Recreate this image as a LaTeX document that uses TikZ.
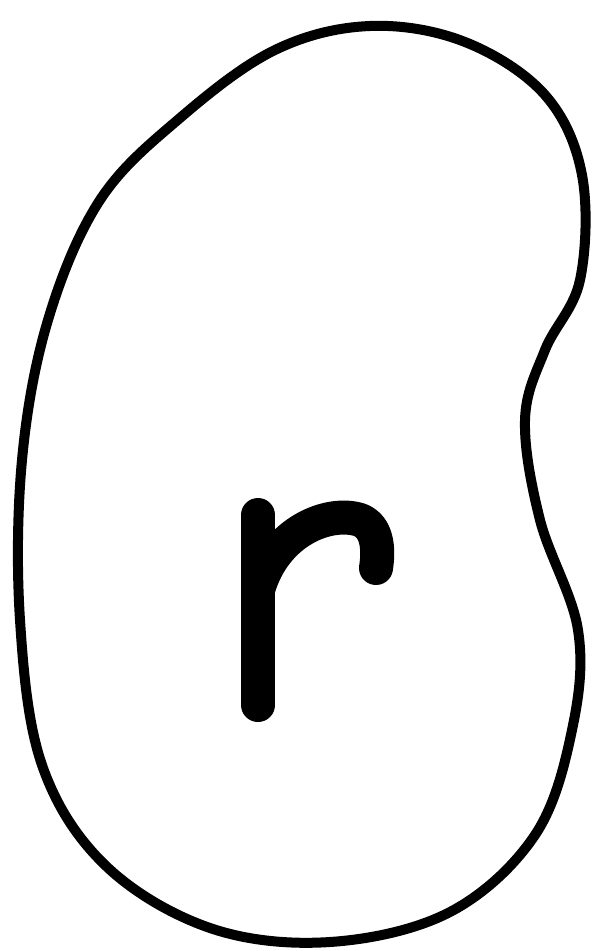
\documentclass[tikz,border=0pt]{standalone}
\begin{document}
\begin{tikzpicture}[x=0.5pt,y=-0.5pt,
  outline/.style={line width=5pt,line join=round},
  letter/.style={line width=17pt,line cap=round,line join=round}]
\useasboundingbox[fill=white] (0,0) rectangle (600,951);
\draw[outline] plot[smooth cycle,tension=0.6] coordinates {
  (370,26) (465,42) (545,95) (582,175) (580,280) (545,350) (525,420)
  (540,520) (578,630) (572,730) (535,835) (450,912) (330,942)
  (210,928) (105,865) (42,765) (20,620) (22,460) (48,320)
  (100,200) (180,118) (275,50)};
\draw[letter] (258,515) -- (258,705);
\draw[letter] (258,590) .. controls (275,530) and (330,510) .. (360,520)
  .. controls (380,528) and (378,555) .. (376,568);
\end{tikzpicture}
\end{document}
